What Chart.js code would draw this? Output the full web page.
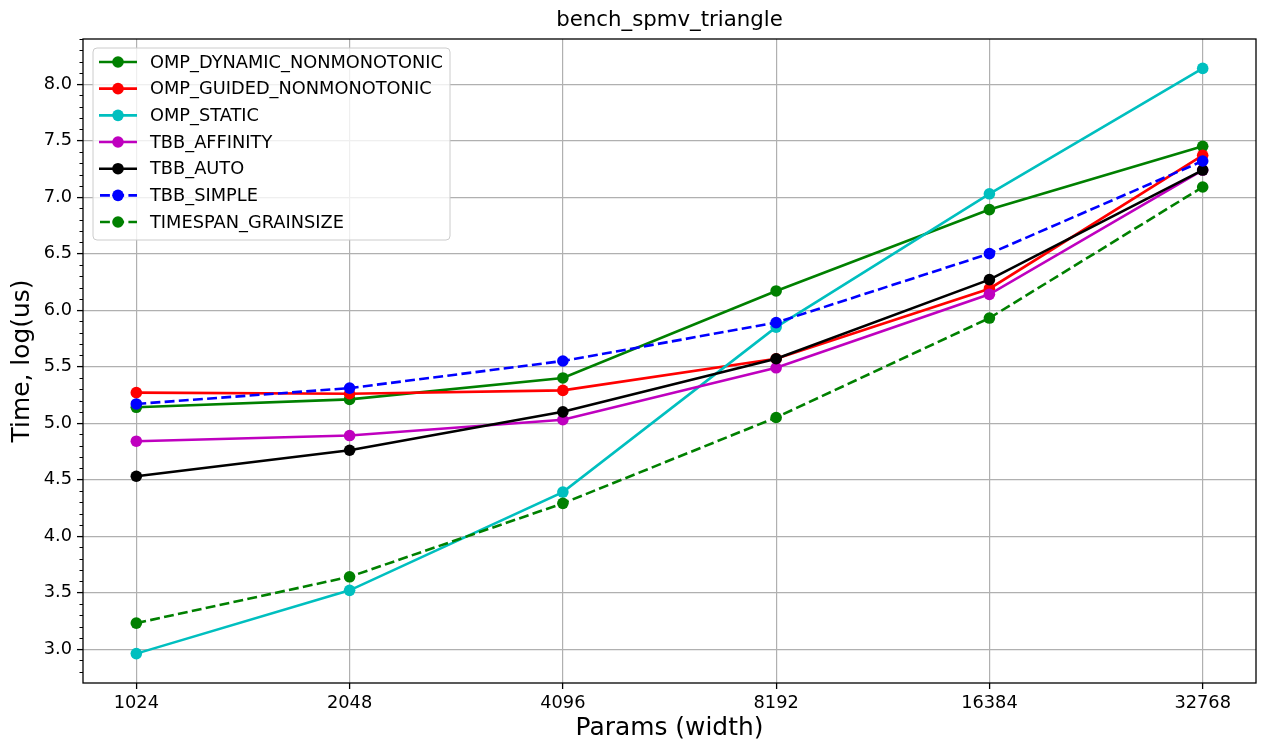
<!DOCTYPE html>
<html>
<head>
<meta charset="utf-8">
<script src="https://cdn.jsdelivr.net/npm/chart.js@4/dist/chart.umd.min.js"></script>
<style>
  html, body { margin: 0; padding: 0; background: #fff; }
  #wrap { width: 1262px; height: 743px; }
</style>
</head>
<body>
<div id="wrap"><canvas id="myChart" width="1262" height="743"></canvas></div>
<script>
// x categories (problem width)
var widths = ["1024", "2048", "4096", "8192", "16384", "32768"];
var yTickLabels = [3.0, 3.5, 4.0, 4.5, 5.0, 5.5, 6.0, 6.5, 7.0, 7.5, 8.0];

// log(us) per series
var ompDynamic = [5.14, 5.21, 5.40, 6.17, 6.89, 7.45];
var ompGuided = [5.27, 5.26, 5.29, 5.57, 6.19, 7.37];
var ompStatic = [2.96, 3.52, 4.39, 5.85, 7.03, 8.14];
var tbbAffinity = [4.84, 4.89, 5.03, 5.49, 6.14, 7.24];
var tbbAuto = [4.53, 4.76, 5.10, 5.57, 6.27, 7.24];
var tbbSimple = [5.17, 5.31, 5.55, 5.89, 6.50, 7.32];
var timespanGrain = [3.23, 3.64, 4.29, 5.05, 5.93, 7.09];

var seriesNames = ["OMP_DYNAMIC_NONMONOTONIC", "OMP_GUIDED_NONMONOTONIC", "OMP_STATIC",
    "TBB_AFFINITY", "TBB_AUTO", "TBB_SIMPLE", "TIMESPAN_GRAINSIZE"];
var seriesData = [ompDynamic, ompGuided, ompStatic, tbbAffinity, tbbAuto, tbbSimple, timespanGrain];
var seriesColors = ["#008000", "#ff0000", "#00bfbf", "#bf00bf", "#000000", "#0000ff", "#008000"];
var seriesDashed = [false, false, false, false, false, true, true];

var FONT = "'DejaVu Sans', sans-serif";
var DASH = [9.9, 4.3];

function toPoints(arr) {
    var pts = [];
    for (var i = 0; i < arr.length; i++) {
        pts.push({x: i, y: arr[i]});
    }
    return pts;
}

var datasets = [];
for (var i = 0; i < seriesNames.length; i++) {
    datasets.push({
        label: seriesNames[i],
        data: toPoints(seriesData[i]),
        borderColor: seriesColors[i],
        backgroundColor: seriesColors[i],
        pointBackgroundColor: seriesColors[i],
        pointBorderColor: seriesColors[i],
        pointBorderWidth: 0,
        pointRadius: 5.8,
        borderWidth: 2.6,
        borderDash: seriesDashed[i] ? DASH : [],
        tension: 0,
        order: -i
    });
}

// frame, minor ticks, title, axis labels, legend box
var decorations = {
    id: "decorations",
    afterDatasetsDraw: function(chart) {
        var ctx = chart.ctx;
        var a = chart.chartArea;
        var y = chart.scales.y;
        ctx.save();

        // minor ticks on y
        ctx.strokeStyle = "#000";
        ctx.lineWidth = 1;
        for (var v = 28; v <= 84; v++) {
            if (v % 5 === 0) continue;
            var py = Math.round(y.getPixelForValue(v / 10)) + 0.5;
            ctx.beginPath();
            ctx.moveTo(a.left - 3.5, py);
            ctx.lineTo(a.left, py);
            ctx.stroke();
        }

        // frame
        ctx.lineWidth = 1.3;
        ctx.strokeRect(a.left, a.top, a.right - a.left, a.bottom - a.top);

        // texts
        ctx.fillStyle = "#000";
        ctx.textAlign = "center";
        ctx.textBaseline = "middle";
        ctx.font = "21.3px " + FONT;
        ctx.fillText("bench_spmv_triangle", (a.left + a.right) / 2, 20);
        ctx.font = "24.9px " + FONT;
        ctx.fillText("Params (width)", (a.left + a.right) / 2, 729);
        ctx.save();
        ctx.translate(23, (a.top + a.bottom) / 2);
        ctx.rotate(-Math.PI / 2);
        ctx.fillText("Time, log(us)", 0, 0);
        ctx.restore();

        // legend
        var bx = 93, by = 48, bw = 357, bh = 192, r = 4;
        ctx.beginPath();
        ctx.moveTo(bx + r, by);
        ctx.arcTo(bx + bw, by, bx + bw, by + bh, r);
        ctx.arcTo(bx + bw, by + bh, bx, by + bh, r);
        ctx.arcTo(bx, by + bh, bx, by, r);
        ctx.arcTo(bx, by, bx + bw, by, r);
        ctx.closePath();
        ctx.fillStyle = "rgba(255,255,255,0.8)";
        ctx.fill();
        ctx.strokeStyle = "#cccccc";
        ctx.lineWidth = 1;
        ctx.stroke();

        ctx.font = "17.8px " + FONT;
        ctx.textAlign = "left";
        var ds = chart.data.datasets;
        for (var k = 0; k < ds.length; k++) {
            var ly = 62 + k * 26.67;
            ctx.strokeStyle = ds[k].borderColor;
            ctx.lineWidth = 2.6;
            ctx.setLineDash(ds[k].borderDash.length ? DASH : []);
            ctx.beginPath();
            ctx.moveTo(ds[k].borderDash.length ? 100 : 99, ly);
            ctx.lineTo(137, ly);
            ctx.stroke();
            ctx.setLineDash([]);
            ctx.fillStyle = ds[k].borderColor;
            ctx.beginPath();
            ctx.arc(118, ly, 5.8, 0, Math.PI * 2);
            ctx.fill();
            ctx.fillStyle = "#000";
            ctx.fillText(ds[k].label, 150, ly + 1);
        }
        ctx.restore();
    }
};

var chart = new Chart(document.getElementById("myChart"), {
    type: "line",
    data: { datasets: datasets },
    plugins: [decorations],
    options: {
        responsive: false,
        animation: false,
        layout: { padding: { left: 0, right: 6, top: 39, bottom: 0 } },
        plugins: {
            legend: { display: false },
            tooltip: { enabled: false },
            title: { display: false }
        },
        scales: {
            x: {
                type: "linear",
                min: -0.25,
                max: 5.25,
                afterBuildTicks: function(scale) {
                    scale.ticks = widths.map(function(w, i) { return {value: i}; });
                },
                afterFit: function(scale) { scale.height = 60; },
                ticks: {
                    autoSkip: false,
                    maxRotation: 0,
                    padding: 4,
                    color: "#000",
                    font: { family: FONT, size: 17.8 },
                    callback: function(v) { return widths[v]; }
                },
                grid: {
                    color: "#b0b0b0",
                    lineWidth: 1.2,
                    tickColor: "#000",
                    tickLength: 6,
                    tickWidth: 1.3
                },
                border: { display: false }
            },
            y: {
                type: "linear",
                min: 2.7,
                max: 8.4,
                afterBuildTicks: function(scale) {
                    scale.ticks = yTickLabels.map(function(v) { return {value: v}; });
                },
                afterFit: function(scale) { scale.width = 83; },
                ticks: {
                    padding: 5,
                    color: "#000",
                    font: { family: FONT, size: 17.8 },
                    callback: function(v) { return v.toFixed(1); }
                },
                grid: {
                    color: "#b0b0b0",
                    lineWidth: 1.2,
                    tickColor: "#000",
                    tickLength: 6,
                    tickWidth: 1.3
                },
                border: { display: false }
            }
        }
    }
});
</script>
</body>
</html>
